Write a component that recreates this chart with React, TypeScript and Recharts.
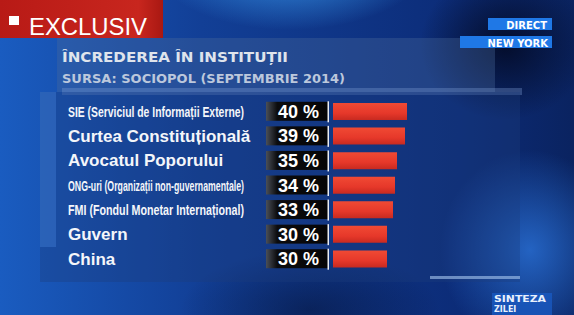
import React from 'react';
import { BarChart, Bar, XAxis, YAxis } from 'recharts';

const institutions = [
  'SIE (Serviciul de Informații Externe)',
  'Curtea Constituțională',
  'Avocatul Poporului',
  'ONG-uri (Organizații non-guvernamentale)',
  'FMI (Fondul Monetar Internațional)',
  'Guvern',
  'China',
];
const trustValues = [40, 39, 35, 34, 33, 30, 30];

const title = 'ÎNCREDEREA ÎN INSTITUȚII';
const source = 'SURSA: SOCIOPOL (SEPTEMBRIE 2014)';

const data = institutions.map((name, i) => ({ name, value: trustValues[i] }));

const W = 574;
const H = 315;
const SQUEEZE = 0.6;

// long labels are squeezed like on the TV graphic
const RowTick = (props: any) => {
  const { y, payload } = props;
  const idx = institutions.indexOf(payload.value);
  const val = trustValues[idx];
  const long = payload.value.length > 24;
  return (
    <g>
      {long ? (
        <text
          transform={`translate(68 ${y + 5.5}) scale(${SQUEEZE} 1)`}
          fill="#f4f6fa"
          fontFamily="'Liberation Sans', Arial, sans-serif"
          fontWeight="bold"
          fontSize={15}
          textLength={176 / SQUEEZE}
          lengthAdjust="spacingAndGlyphs"
        >
          {payload.value}
        </text>
      ) : (
        <text
          x={68}
          y={y + 6}
          fill="#f4f6fa"
          fontFamily="'Liberation Sans', Arial, sans-serif"
          fontWeight="bold"
          fontSize={17}
        >
          {payload.value}
        </text>
      )}
      <rect x={266} y={y - 9.5} width={62} height={19} fill="url(#boxBlack)" />
      <rect x={327.5} y={y - 10} width={1.5} height={21} fill="#e8ecf2" />
      <text
        x={319}
        y={y + 6.5}
        textAnchor="end"
        fill="#ffffff"
        fontFamily="'Liberation Sans', Arial, sans-serif"
        fontWeight="bold"
        fontSize={18}
      >
        {val} %
      </text>
    </g>
  );
};

const Backdrop = () => (
  <svg width={W} height={H} style={{ position: 'absolute', left: 0, top: 0 }}>
    <defs>
      <linearGradient id="bgBase" x1="0" y1="0" x2="1" y2="0">
        <stop offset="0%" stopColor="#1a5cc0" />
        <stop offset="35%" stopColor="#123f96" />
        <stop offset="80%" stopColor="#0c2c78" />
        <stop offset="100%" stopColor="#0a2360" />
      </linearGradient>
      <radialGradient id="glowTop" cx="0.5" cy="0" r="0.5">
        <stop offset="0%" stopColor="#3a9cf0" stopOpacity={0.95} />
        <stop offset="100%" stopColor="#3a9cf0" stopOpacity={0} />
      </radialGradient>
      <radialGradient id="glowRight" cx="0.5" cy="0.5" r="0.5">
        <stop offset="0%" stopColor="#2a72d8" stopOpacity={0.8} />
        <stop offset="100%" stopColor="#2a72d8" stopOpacity={0} />
      </radialGradient>
      <radialGradient id="darkCorner" cx="0.5" cy="0.5" r="0.5">
        <stop offset="0%" stopColor="#030a24" stopOpacity={0.9} />
        <stop offset="100%" stopColor="#030a24" stopOpacity={0} />
      </radialGradient>
      <linearGradient id="redBlock" x1="0" y1="0" x2="1" y2="0">
        <stop offset="0%" stopColor="#b81a16" />
        <stop offset="85%" stopColor="#c8261e" />
        <stop offset="100%" stopColor="#a81812" />
      </linearGradient>
      <linearGradient id="boxBlack" x1="0" y1="0" x2="1" y2="0">
        <stop offset="0%" stopColor="#4a4f58" />
        <stop offset="18%" stopColor="#0c0c0e" />
        <stop offset="100%" stopColor="#050506" />
      </linearGradient>
      <linearGradient id="barRed" x1="0" y1="0" x2="0" y2="1">
        <stop offset="0%" stopColor="#f04a34" />
        <stop offset="60%" stopColor="#e6382a" />
        <stop offset="100%" stopColor="#c82a20" />
      </linearGradient>
    </defs>
    <rect x={0} y={0} width={W} height={H} fill="url(#bgBase)" />
    <rect x={150} y={-40} width={280} height={140} fill="url(#glowTop)" />
    <rect x={420} y={-30} width={170} height={150} fill="url(#darkCorner)" />
    <rect x={440} y={150} width={180} height={200} fill="url(#glowRight)" />
    <rect x={180} y={250} width={260} height={120} fill="url(#darkCorner)" opacity={0.5} />

    {/* panel */}
    <rect x={57} y={38} width={438} height={54} fill="#4a6a9c" opacity={0.35} />
    <rect x={62} y={88} width={460} height={7} fill="#7a9ad0" opacity={0.35} />
    <rect x={40} y={92} width={480} height={190} fill="#1c3c7c" opacity={0.35} />
    <rect x={40} y={92} width={16} height={155} fill="#4a8ae0" opacity={0.35} />
    <rect x={430} y={276} width={90} height={3} fill="#a8c8f0" opacity={0.6} />

    {/* EXCLUSIV block */}
    <rect x={0} y={0} width={163} height={38} fill="url(#redBlock)" />
    <rect x={9} y={16} width={10} height={9} fill="#ffffff" />
    <text
      x={29}
      y={35}
      fill="#ffffff"
      fontFamily="'Liberation Sans', Arial, sans-serif"
      fontSize={24}
      textLength={118}
      lengthAdjust="spacingAndGlyphs"
    >
      EXCLUSIV
    </text>

    {/* badges */}
    <rect x={488} y={18} width={64} height={12} fill="#1f78e6" />
    <text x={547} y={28.5} textAnchor="end" fill="#ffffff" fontFamily="'DejaVu Sans', sans-serif" fontWeight="bold" fontSize={10}>
      DIRECT
    </text>
    <rect x={460} y={36} width={92} height={12} fill="#1f78e6" />
    <text x={548} y={46.5} textAnchor="end" fill="#ffffff" fontFamily="'DejaVu Sans', sans-serif" fontWeight="bold" fontSize={10}>
      NEW YORK
    </text>

    {/* titles */}
    <text
      x={62}
      y={62}
      fill="#dfe4ec"
      fontFamily="'DejaVu Sans', sans-serif"
      fontWeight="bold"
      fontSize={14}
      textLength={226}
      lengthAdjust="spacingAndGlyphs"
    >
      {title}
    </text>
    <text
      x={62}
      y={83}
      fill="#bcc8dc"
      fontFamily="'DejaVu Sans', sans-serif"
      fontWeight="bold"
      fontSize={12}
      textLength={283}
      lengthAdjust="spacingAndGlyphs"
    >
      {source}
    </text>

    {/* SINTEZA ZILEI logo */}
    <rect x={492} y={293} width={60} height={22} fill="#1a5cc8" opacity={0.7} />
    <text x={494} y={302} fill="#e8f0fc" fontFamily="'DejaVu Sans', sans-serif" fontWeight="bold" fontSize={8} textLength={52} lengthAdjust="spacingAndGlyphs">
      SINTEZA
    </text>
    <text x={494} y={312} fill="#e8f0fc" fontFamily="'DejaVu Sans', sans-serif" fontWeight="bold" fontSize={8}>
      ZILEI
    </text>
  </svg>
);

export default function App() {
  return (
    <div style={{ position: 'absolute', left: 0, top: 0, width: W, height: H, overflow: 'hidden' }}>
      <Backdrop />
      <div style={{ position: 'absolute', left: 0, top: 0 }}>
        <BarChart
          width={W}
          height={H}
          data={data}
          layout="vertical"
          margin={{ top: 99, right: 141, bottom: 44, left: 0 }}
        >
          <XAxis type="number" domain={[3, 53]} hide />
          <YAxis
            type="category"
            dataKey="name"
            width={333}
            axisLine={false}
            tickLine={false}
            interval={0}
            tick={<RowTick />}
          />
          <Bar dataKey="value" fill="url(#barRed)" barSize={17} isAnimationActive={false} />
        </BarChart>
      </div>
    </div>
  );
}
